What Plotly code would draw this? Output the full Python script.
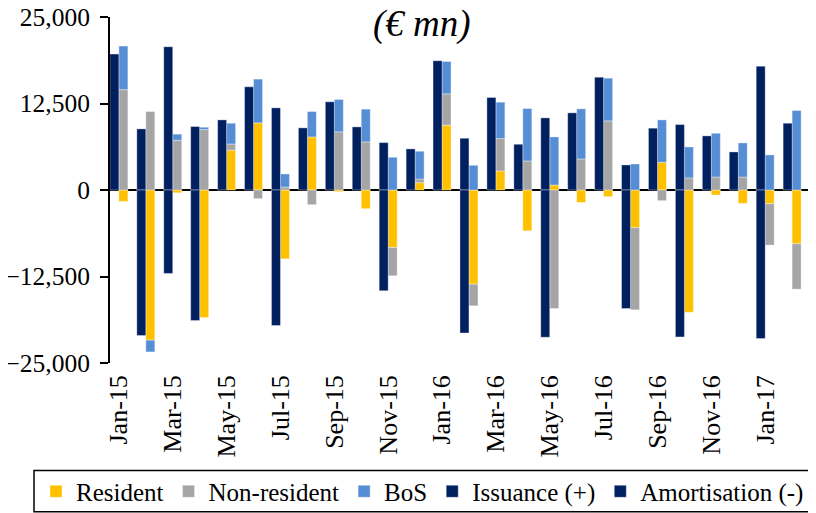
import numpy as np
import plotly.graph_objects as go

months = ["Jan-15","Feb-15","Mar-15","Apr-15","May-15","Jun-15","Jul-15","Aug-15","Sep-15","Oct-15","Nov-15","Dec-15",
          "Jan-16","Feb-16","Mar-16","Apr-16","May-16","Jun-16","Jul-16","Aug-16","Sep-16","Oct-16","Nov-16","Dec-16",
          "Jan-17","Feb-17"]

resident = [-1650, -21700, -400, -18430, 5750, 9700, -9950, 7670, -240, -2700, -8300, 1060,
            9360, -13600, 2750, -5900, 720, -1800, -960, -5450, 4000, -17660, -720, -1930,
            -1980, -7770]
non_resident = [14500, 11340, 7200, 8730, 900, -1250, 430, -2120, 8400, 6950, -4100, 530,
                4540, -3140, 4680, 4200, -17130, 4490, 9990, -11870, -1540, 1740, 1880, 1880,
                -5980, -6560]
bos = [6300, -1700, 870, 340, 3000, 6320, 1890, 3670, 4680, 4730, 4730, 4010,
       4670, 3570, 5260, 7570, 6950, 7240, 6170, 3760, 6130, 4480, 6320, 4920,
       5070, 11480]
issuance = [19640, 8830, 20700, 9170, 10130, 14910, 11870, 8980, 12740, 9120, 6850, 5940,
            18670, 7480, 13370, 6610, 10420, 11150, 16310, 3620, 8930, 9460, 7820, 5500,
            17900, 9650]
amortisation = [0, -21040, -12060, -18870, 0, 0, -19590, 0, 0, 0, -14570, 0,
                0, -20660, 0, 0, -21280, 0, 0, -17130, 0, -21230, 0, 0,
                -21470, 0]

tick_idx = list(range(0, len(months), 2))
tick_labels = [months[i] for i in tick_idx]
y_ticks = [-25000, -12500, 0, 12500, 25000]

x = np.arange(len(months))
W = 0.334
FONT = "Liberation Serif"

# page offset (html body margin) and figure size
OFF = 8
FW, FH = 816 - OFF, 513 - OFF
# plot-area geometry in page pixels
L, R, T, B = 110, 808, 17.3, 362.7
PW, PH = R - L, B - T

def px_x(p):
    return (p - L) / PW

def px_y(p):
    return (B - p) / PH

fig = go.Figure()

line_style = dict(color="rgba(255,255,255,0.45)", width=0.8)

pos_cum = np.zeros(len(months))
neg_cum = np.zeros(len(months))
for name, vals, col in [("Resident", resident, "#FFC000"),
                        ("Non-resident", non_resident, "#A5A5A5"),
                        ("BoS", bos, "#558ED5")]:
    v = np.array(vals, dtype=float)
    base = np.where(v >= 0, pos_cum, neg_cum)
    fig.add_trace(go.Bar(x=x, y=v, base=base, offset=0, width=W, name=name,
                         marker=dict(color=col, line=line_style)))
    pos_cum = pos_cum + np.where(v >= 0, v, 0)
    neg_cum = neg_cum + np.where(v < 0, v, 0)

iss = [v if v != 0 else None for v in issuance]
amo = [v if v != 0 else None for v in amortisation]
fig.add_trace(go.Bar(x=x, y=iss, base=0, offset=-W, width=W, name="Issuance (+)",
                     marker=dict(color="#002060", line=line_style)))
fig.add_trace(go.Bar(x=x, y=amo, base=0, offset=-W, width=W, name="Amortisation (-)",
                     marker=dict(color="#002060", line=line_style)))

fig.update_layout(
    width=FW, height=FH,
    margin=dict(l=L - OFF, r=816 - R, t=T - OFF, b=513 - B, autoexpand=False),
    barmode="overlay",
    plot_bgcolor="white", paper_bgcolor="white",
    font=dict(family=FONT, size=24, color="black"),
    showlegend=True,
    legend=dict(orientation="h", x=px_x(36), xanchor="left", y=px_y(491), yanchor="middle",
                font=dict(family=FONT, size=25), bgcolor="rgba(0,0,0,0)",
                itemwidth=30, tracegroupgap=0, traceorder="normal"),
    shapes=[dict(type="rect", xref="paper", yref="paper",
                 x0=px_x(34), x1=px_x(830),
                 y0=px_y(511.3), y1=px_y(470),
                 line=dict(color="black", width=1.5), fillcolor="rgba(0,0,0,0)")],
    annotations=[dict(text="<i>(€ mn)</i>", xref="paper", yref="paper",
                      x=px_x(422), y=px_y(24),
                      xanchor="center", yanchor="middle", showarrow=False,
                      font=dict(family=FONT, size=37, color="black"))],
)
fig.update_xaxes(range=[-0.33, 25.59], tickmode="array", tickvals=tick_idx, ticktext=tick_labels,
                 tickangle=-90, showgrid=False, showline=False, zeroline=False, ticks="",
                 automargin=False, ticklabelstandoff=6, ticklabeloverflow="allow",
                 tickfont=dict(family=FONT, size=26))
fig.update_yaxes(range=[-25000, 25000], tickmode="array", tickvals=y_ticks,
                 tickformat=",", showgrid=False, showline=True, linecolor="black", linewidth=2,
                 ticks="outside", ticklen=8, tickwidth=2, tickcolor="black",
                 zeroline=True, zerolinecolor="black", zerolinewidth=2,
                 automargin=False, ticklabelstandoff=5, ticklabeloverflow="allow",
                 tickfont=dict(family=FONT, size=25.5))

fig.write_html("out.html")
